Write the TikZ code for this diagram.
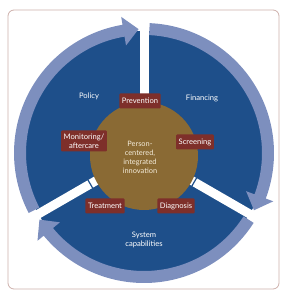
\documentclass[tikz,border=0pt]{standalone}
\usepackage{fontspec}
\setmainfont{Lato}
\definecolor{diskblue}{HTML}{1E4F8A}
\definecolor{ringblue}{HTML}{7D8FBE}
\definecolor{coregold}{HTML}{8A6A34}
\definecolor{stagered}{HTML}{7E2F2A}
\definecolor{framerose}{HTML}{CDB0AB}
\definecolor{corecream}{HTML}{F3EBD9}
\begin{document}
\begin{tikzpicture}[
    x=1pt, y=1pt,
    ring/.style={fill=ringblue},
    spoke/.style={white, line width=9pt},
    stage/.style={fill=stagered, text=white, rounded corners=1pt, inner sep=2.6pt,
                  minimum height=15pt, align=center, font=\fontsize{7.6}{8.8}\selectfont},
    area/.style={text=white, align=center, font=\fontsize{7.6}{9.2}\selectfont}
]
\useasboundingbox (0,0) rectangle (289,300);
\draw[framerose, line width=0.8pt, rounded corners=6pt] (8,11) rectangle (279,290);

\coordinate (c) at (144,147);
\fill[diskblue] (c) circle (122);

\begin{scope}[shift={(c)}]
\coordinate (s1) at (90:140);
\coordinate (s2) at (-30:140);
\coordinate (s3) at (210:140);
\draw[spoke] (0,0) -- (s1);
\draw[spoke] (0,0) -- (s2);
\draw[spoke] (0,0) -- (s3);

\draw[diskblue, line width=1.2pt] (-30:58) ++(60:5) -- ++(240:10);
\draw[diskblue, line width=1.2pt] (210:62) ++(120:5) -- ++(300:10);

\fill[ring] (207.5:130) arc[start angle=207.5, end angle=99.5, radius=130]
    -- (99.5:138) -- (92.5:124) -- (99.5:109) -- (99.5:118)
    arc[start angle=99.5, end angle=207.5, radius=118] -- cycle;
\fill[ring] (87.5:130) arc[start angle=87.5, end angle=-20.5, radius=130]
    -- (-20.5:138) -- (-27.5:124) -- (-20.5:109) -- (-20.5:118)
    arc[start angle=-20.5, end angle=87.5, radius=118] -- cycle;
\fill[ring] (-32.5:130) arc[start angle=-32.5, end angle=-140.5, radius=130]
    -- (-140.5:138) -- (-147.5:124) -- (-140.5:109) -- (-140.5:118)
    arc[start angle=-140.5, end angle=-32.5, radius=118] -- cycle;
\end{scope}

\node[circle, fill=coregold, minimum size=108pt, inner sep=0pt] (core) at (144,144) {};
\node[text=corecream, align=center, font=\fontsize{7.4}{9}\selectfont] (hub) at (140,142.5)
    {Person-\\centered,\\integrated\\innovation};

\node[stage] (prevention) at (140,199) {Prevention};
\node[stage, minimum height=21pt] (monitoring) at (84,159) {Monitoring/\\aftercare};
\node[stage] (screening) at (195,158) {Screening};
\node[stage] (treatment) at (105,94) {Treatment};
\node[stage] (diagnosis) at (176,94) {Diagnosis};

\node[area] (policy) at (89,204) {Policy};
\node[area] (financing) at (202,202) {Financing};
\node[area] (system) at (144,60) {System\\capabilities};
\end{tikzpicture}
\end{document}
